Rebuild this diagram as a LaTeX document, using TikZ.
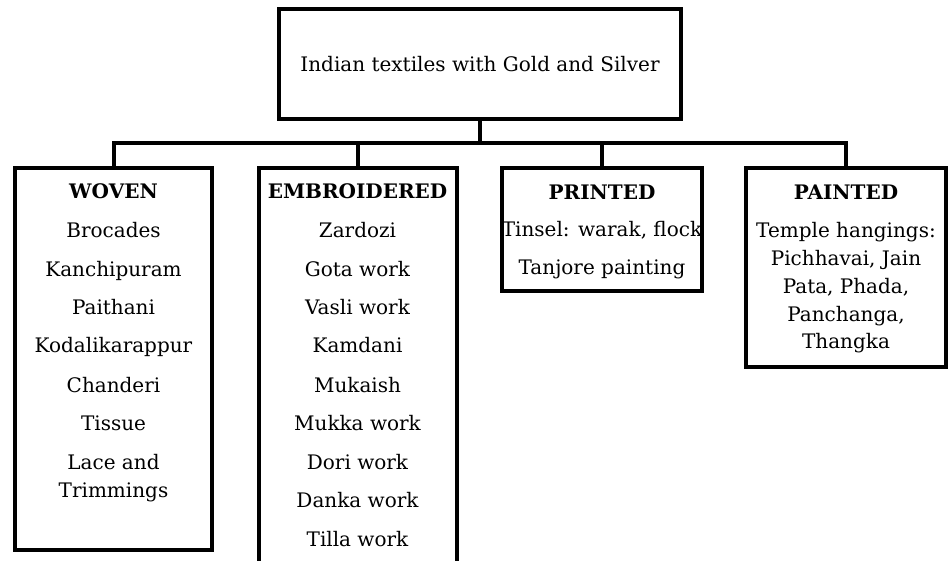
\documentclass[tikz,border=0pt]{standalone}
\usepackage{fontspec}
\setmainfont{DejaVu Serif}
\usepackage{tikz}

\begin{document}
\begin{tikzpicture}[x=1pt,y=-1pt,line width=4pt,font=\fontsize{20}{24}\selectfont]
            \clip (0,0) rectangle (951,561);
            \begin{scope}[every node/.style={rectangle,draw=black,outer sep=0pt,inner sep=0pt}]
                \node[minimum width=401.5pt,minimum height=109.5pt] (textiles) at (480,64.25) {Indian textiles with Gold and Silver};
                \node[minimum width=197.5pt,minimum height=382pt] (woven) at (113.5,359) {};
                \node[minimum width=198pt,minimum height=432pt] (embroidered) at (358,384) {};
                \node[minimum width=200pt,minimum height=123pt] (printed) at (602,229.5) {};
                \node[minimum width=200pt,minimum height=199pt] (painted) at (846,267.5) {};
            \end{scope}
            \coordinate (bus) at (480,143);
            \draw (textiles.south) -- (bus);
            \draw (woven.north) |- (bus) -| (painted.north);
            \draw (embroidered.north) -- (embroidered.north |- bus);
            \draw (printed.north) -- (printed.north |- bus);
            \begin{scope}[every node/.style={anchor=base,inner sep=0pt}]
                % woven
                \node (w0) at (113.5,199) {\textbf{WOVEN}};
                \node (w1) at (113.5,238) {Brocades};
                \node (w2) at (113.5,277) {Kanchipuram};
                \node (w3) at (113.5,315) {Paithani};
                \node (w4) at (113.5,353) {Kodalikarappur};
                \node (w5) at (113.5,392) {Chanderi};
                \node (w6) at (113.5,430) {Tissue};
                \node (w7) at (113.5,469) {Lace and};
                \node (w8) at (113.5,497) {Trimmings};
                % embroidered
                \node (e0) at (357.5,199) {\textbf{EMBROIDERED}};
                \node (e1) at (357.5,238) {Zardozi};
                \node (e2) at (357.5,277) {Gota work};
                \node (e3) at (357.5,315) {Vasli work};
                \node (e4) at (357.5,353) {Kamdani};
                \node (e5) at (357.5,392) {Mukaish};
                \node (e6) at (357.5,430) {Mukka work};
                \node (e7) at (357.5,469) {Dori work};
                \node (e8) at (357.5,507) {Danka work};
                \node (e9) at (357.5,546) {Tilla work};
                % printed
                \node (p0) at (602,200) {\textbf{PRINTED}};
                \node (p1) at (602,237) {Tinsel: warak, flock};
                \node (p2) at (602,275) {Tanjore painting};
                % painted
                \node (q0) at (846,200) {\textbf{PAINTED}};
                \node (q1) at (846,238) {Temple hangings:};
                \node (q2) at (846,266) {Pichhavai, Jain};
                \node (q3) at (846,294) {Pata, Phada,};
                \node (q4) at (846,322) {Panchanga,};
                \node (q5) at (846,349) {Thangka};
            \end{scope}
        \end{tikzpicture}
\end{document}
